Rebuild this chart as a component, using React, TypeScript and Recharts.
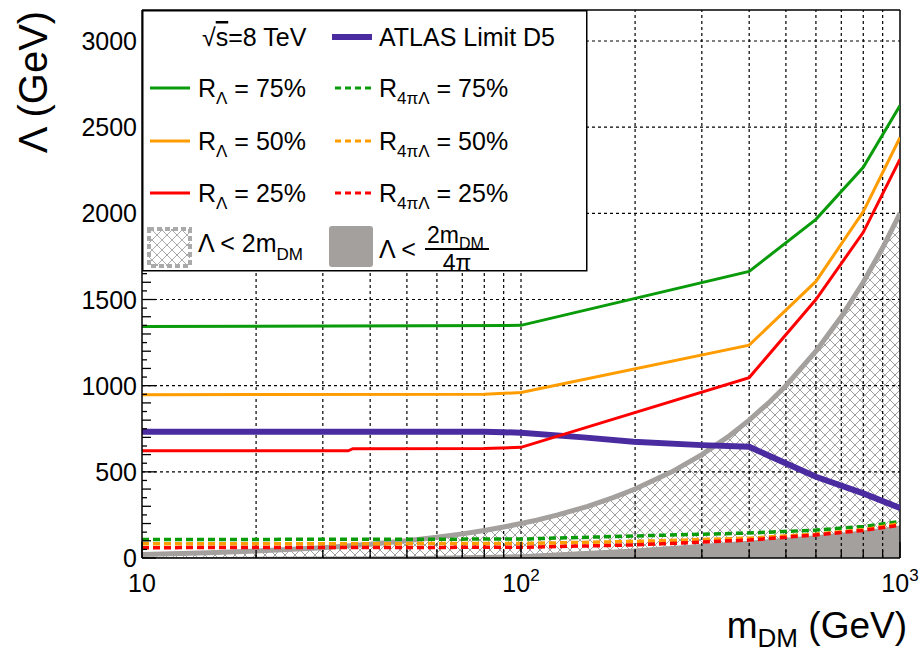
import React from 'react';
import {
  ComposedChart,
  Line,
  Area,
  XAxis,
  YAxis,
  ReferenceLine,
  Legend,
} from 'recharts';

// ---------- data ----------
const twoMX = [10, 15, 20, 30, 40, 50, 60, 70, 80, 90, 100, 110, 125, 150, 175, 200, 250, 300, 350, 400, 450, 500, 600, 700, 800, 900, 1000];
const twoMY = [20, 30, 40, 60, 80, 100, 120, 140, 160, 180, 200, 220, 250, 300, 350, 400, 500, 600, 700, 800, 900, 1000, 1200, 1400, 1600, 1800, 2000];

const fillX = [10, 50, 100, 200, 400, 600, 800, 1000];
const fillY = [5, 10, 22, 55, 100, 132, 160, 188];

const atlasX = [10, 80, 90, 100, 146, 198, 300, 400, 600, 800, 1000];
const atlasY = [733, 733, 730, 727, 700, 675, 655, 645, 471, 375, 290];

const r75X = [10, 100, 400, 600, 800, 1000];
const r75Y = [1343, 1350, 1663, 1965, 2267, 2625];

const r50X = [10, 80, 100, 400, 600, 800, 1000];
const r50Y = [948, 950, 960, 1235, 1605, 2010, 2440];

const r25X = [10, 35, 36, 80, 100, 400, 600, 800, 1000];
const r25Y = [622, 622, 634, 636, 642, 1047, 1500, 1890, 2314];

const d75X = [10, 100, 200, 400, 600, 800, 1000];
const d75Y = [107, 110, 128, 145, 162, 183, 212];

const d50X = [10, 100, 200, 400, 600, 800, 1000];
const d50Y = [82, 84, 96, 115, 138, 164, 200];

const d25X = [10, 100, 200, 400, 600, 800, 1000];
const d25Y = [60, 62, 76, 104, 134, 160, 190];

const xTicks = [10, 20, 30, 40, 50, 60, 70, 80, 90, 100, 200, 300, 400, 500, 600, 700, 800, 900, 1000];
const xGrid = [20, 30, 40, 50, 60, 70, 80, 90, 100, 200, 300, 400, 500, 600, 700, 800, 900];
const yGrid = [500, 1000, 1500, 2000, 2500, 3000];
const yTicks: number[] = [];
for (let v = 0; v <= 3150; v += 50) yTicks.push(v);
const Y_MAX = 3180;

const zip = (xs: number[], ys: number[]) => xs.map((m, i) => ({ m, v: ys[i] }));

const GREEN = '#0a9b0a';
const ORANGE = '#ff9c00';
const RED = '#ff0000';
const PURPLE = '#4a2ba0';
const GREY = '#a3a09e';
const FONT = "'Liberation Sans', Arial, sans-serif";

function XTick(props: any) {
  const { x, y, payload } = props;
  const v = payload.value;
  const major = v === 10 || v === 100 || v === 1000;
  return (
    <g>
      <line x1={x} x2={x} y1={y} y2={y - (major ? 16 : 8)} stroke="#000" strokeWidth={1.3} />
      {major && (
        <text
          x={x}
          y={y + 34}
          textAnchor="middle"
          fontFamily="'Liberation Sans Narrow', 'Liberation Sans', Arial"
          fontSize={25}
          fill="#000"
        >
          10
          {v > 10 && (
            <tspan fontSize={17} dy={-11}>
              {v === 100 ? '2' : '3'}
            </tspan>
          )}
        </text>
      )}
    </g>
  );
}

function YTick(props: any) {
  const { x, y, payload } = props;
  const v = payload.value;
  const major = v % 500 === 0;
  const mid = v % 100 === 0;
  const len = major ? 14 : mid ? 9 : 5;
  return (
    <g>
      <line x1={x} x2={x + len} y1={y} y2={y} stroke="#000" strokeWidth={1.3} />
      {major && (
        <text x={x - 5} y={y + 9} textAnchor="end" fontFamily={FONT} fontSize={25} fill="#000">
          {v}
        </text>
      )}
    </g>
  );
}

function LegendBox() {
  const rows = [
    { c: GREEN, y: 78, t: '75%' },
    { c: ORANGE, y: 131, t: '50%' },
    { c: RED, y: 183, t: '25%' },
  ];
  const ts = { fontFamily: FONT, fontSize: 25, fill: '#000' } as any;
  return (
    <svg width={446} height={266} style={{ display: 'block', overflow: 'visible' }}>
      <defs>
        <pattern id="hatchL" patternUnits="userSpaceOnUse" width="10" height="10">
          <path d="M0,0 L10,10 M10,0 L0,10" stroke="#aaa" strokeWidth="1" />
        </pattern>
      </defs>
      <rect x={0.75} y={0.75} width={444} height={260} fill="#fff" stroke="#000" strokeWidth={1.5} />
      <text x={60} y={36} {...ts}>
        √<tspan textDecoration="overline">s</tspan>=8 TeV
      </text>
      <line x1={190} x2={230} y1={27} y2={27} stroke={PURPLE} strokeWidth={6} />
      <text x={237} y={36} {...ts}>ATLAS Limit D5</text>
      {rows.map((r) => (
        <g key={r.t}>
          <line x1={8} x2={48} y1={r.y} y2={r.y} stroke={r.c} strokeWidth={3} />
          <text x={56} y={r.y + 9} {...ts}>
            R<tspan fontSize={17} dy={7}>Λ</tspan>
            <tspan dy={-7}> = {r.t}</tspan>
          </text>
          <line x1={193} x2={231} y1={r.y} y2={r.y} stroke={r.c} strokeWidth={3} strokeDasharray="6 4" />
          <text x={237} y={r.y + 9} {...ts}>
            R<tspan fontSize={17} dy={7}>4πΛ</tspan>
            <tspan dy={-7}> = {r.t}</tspan>
          </text>
        </g>
      ))}
      <rect x={7} y={219} width={41} height={37} fill="url(#hatchL)" stroke="#aaa" strokeWidth={4} strokeDasharray="5 3" />
      <text x={56} y={242} {...ts}>
        Λ &lt; 2m<tspan fontSize={17} dy={8}>DM</tspan>
      </text>
      <rect x={187} y={216} width={44} height={41} rx={3} fill={GREY} />
      <text x={237} y={248} {...ts}>Λ &lt;</text>
      <text x={285} y={233} fontFamily={FONT} fontSize={23} fill="#000">
        2m<tspan fontSize={16} dy={6}>DM</tspan>
      </text>
      <line x1={283} x2={347} y1={239} y2={239} stroke="#000" strokeWidth={2} />
      <text x={315} y={261} textAnchor="middle" fontFamily={FONT} fontSize={23} fill="#000">4π</text>
    </svg>
  );
}

export default function App() {
  return (
    <div style={{ position: 'absolute', left: 0, top: 0, background: '#fff' }}>
      <ComposedChart
        width={920}
        height={660}
        margin={{ top: 10, right: 20, bottom: 0, left: 0 }}
        style={{ fontFamily: FONT }}
      >
        <defs>
          <pattern id="hatch" patternUnits="userSpaceOnUse" width="10" height="10">
            <path d="M0,0 L10,10 M10,0 L0,10" stroke="#a0a0a0" strokeWidth="1" />
          </pattern>
        </defs>
        <XAxis
          dataKey="m"
          type="number"
          scale="log"
          domain={[10, 1000]}
          allowDataOverflow
          ticks={xTicks}
          interval={0}
          tick={<XTick />}
          tickLine={false}
          tickSize={0}
          tickMargin={0}
          height={102}
          axisLine={{ stroke: '#000', strokeWidth: 1.5 }}
          label={{
            content: () => (
              <text x={907} y={638} textAnchor="end" fontFamily={FONT} fontSize={37} fill="#000">
                m<tspan fontSize={26} dy={9}>DM</tspan>
                <tspan dy={-9}> (GeV)</tspan>
              </text>
            ),
          }}
        />
        <YAxis
          type="number"
          domain={[0, Y_MAX]}
          allowDataOverflow
          ticks={yTicks}
          interval={0}
          tick={<YTick />}
          tickLine={false}
          tickSize={0}
          tickMargin={0}
          width={142}
          axisLine={{ stroke: '#000', strokeWidth: 1.5 }}
          label={{
            content: () => (
              <text
                transform="translate(47,82) rotate(-90)"
                textAnchor="middle"
                fontFamily={FONT}
                fontSize={40}
                fill="#000"
              >
                Λ (GeV)
              </text>
            ),
          }}
        />
        <Area
          data={zip(twoMX, twoMY)}
          dataKey="v"
          type="linear"
          fill="url(#hatch)"
          fillOpacity={1}
          stroke="none"
          isAnimationActive={false}
          dot={false}
          activeDot={false}
        />
        {xGrid.map((g) => (
          <ReferenceLine key={'x' + g} x={g} stroke="#000" strokeWidth={1.2} strokeDasharray="3 3" />
        ))}
        {yGrid.map((g) => (
          <ReferenceLine key={'y' + g} y={g} stroke="#000" strokeWidth={1.2} strokeDasharray="3 3" />
        ))}
        <ReferenceLine y={Y_MAX} stroke="#000" strokeWidth={1.5} />
        <ReferenceLine x={1000} stroke="#000" strokeWidth={1.5} />
        <Area
          data={zip(fillX, fillY)}
          dataKey="v"
          type="linear"
          fill={GREY}
          fillOpacity={1}
          stroke="none"
          isAnimationActive={false}
          dot={false}
          activeDot={false}
        />
        <Line data={zip(twoMX, twoMY)} dataKey="v" type="linear" stroke={GREY} strokeWidth={5} dot={false} activeDot={false} isAnimationActive={false} />
        <Line data={zip(d75X, d75Y)} dataKey="v" type="linear" stroke={GREEN} strokeWidth={3.5} strokeDasharray="7 4" dot={false} activeDot={false} isAnimationActive={false} />
        <Line data={zip(d50X, d50Y)} dataKey="v" type="linear" stroke={ORANGE} strokeWidth={3.5} strokeDasharray="7 4" dot={false} activeDot={false} isAnimationActive={false} />
        <Line data={zip(d25X, d25Y)} dataKey="v" type="linear" stroke={RED} strokeWidth={3.5} strokeDasharray="7 4" dot={false} activeDot={false} isAnimationActive={false} />
        <Line data={zip(atlasX, atlasY)} dataKey="v" type="linear" stroke={PURPLE} strokeWidth={6} dot={false} activeDot={false} isAnimationActive={false} />
        <Line data={zip(r75X, r75Y)} dataKey="v" type="linear" stroke={GREEN} strokeWidth={3} dot={false} activeDot={false} isAnimationActive={false} />
        <Line data={zip(r50X, r50Y)} dataKey="v" type="linear" stroke={ORANGE} strokeWidth={3} dot={false} activeDot={false} isAnimationActive={false} />
        <Line data={zip(r25X, r25Y)} dataKey="v" type="linear" stroke={RED} strokeWidth={3} dot={false} activeDot={false} isAnimationActive={false} />
        <Legend
          layout="vertical"
          align="center"
          verticalAlign="middle"
          wrapperStyle={{ left: 142, top: 10, width: 446, height: 266 }}
          content={() => <LegendBox />}
        />
      </ComposedChart>
    </div>
  );
}
